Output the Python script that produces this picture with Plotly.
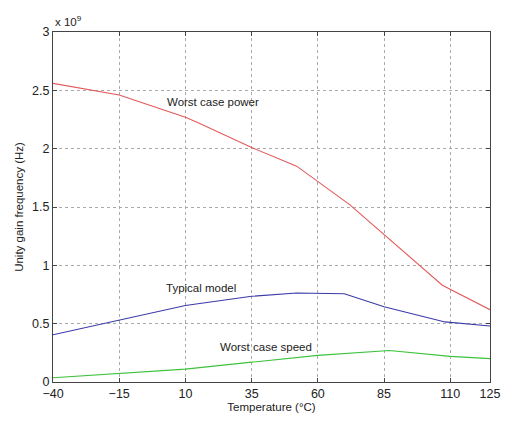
import plotly.graph_objects as go

# Unity gain frequency (x 1e9 Hz) vs temperature (°C) for three corners
power_temp = [-40, -15, 10, 15, 35, 52, 72, 107, 125]
power_ugf = [2.56, 2.46, 2.27, 2.22, 2.01, 1.85, 1.52, 0.83, 0.62]

typical_temp = [-40, -15, 10, 35, 52, 70, 85, 108, 125]
typical_ugf = [0.405, 0.53, 0.655, 0.735, 0.763, 0.757, 0.645, 0.515, 0.48]

speed_temp = [-40, -15, 10, 35, 60, 87, 110, 125]
speed_ugf = [0.036, 0.075, 0.11, 0.17, 0.228, 0.27, 0.22, 0.2]

x_ticks = [-40, -15, 10, 35, 60, 85, 110, 125]
y_ticks = [0, 0.5, 1, 1.5, 2, 2.5, 3]
y_tick_text = ["0", "0.5", "1", "1.5", "2", "2.5", "3"]

curve_labels = [
    ("Worst case power", 20.3, 2.40),
    ("Typical model", 15.9, 0.81),
    ("Worst case speed", 40.3, 0.30),
]

font = "Liberation Sans, Arial, sans-serif"

fig = go.Figure()
fig.add_trace(go.Scatter(x=power_temp, y=power_ugf, mode="lines",
                         line=dict(color="#e25a5a", width=1.1)))
fig.add_trace(go.Scatter(x=typical_temp, y=typical_ugf, mode="lines",
                         line=dict(color="#3a3aa8", width=1.1)))
fig.add_trace(go.Scatter(x=speed_temp, y=speed_ugf, mode="lines",
                         line=dict(color="#3cc23c", width=1.1)))

for text, tx, ty in curve_labels:
    fig.add_annotation(x=tx, y=ty, text=text, showarrow=False,
                       font=dict(family=font, size=11.5, color="#222"))

# exponent marker above the y axis
fig.add_annotation(xref="paper", yref="paper", x=0.0, y=1.0, xanchor="left",
                   yanchor="bottom", yshift=2,
                   text="x 10<sup>9</sup>", showarrow=False,
                   font=dict(family=font, size=11.5, color="#222"))

axis_common = dict(
    showline=True, linecolor="#444", linewidth=1, mirror="ticks",
    ticks="inside", ticklen=4, tickcolor="#444",
    showgrid=True, gridcolor="#aaa", griddash="dot", gridwidth=1,
    zeroline=False,
    tickfont=dict(family=font, size=12.5, color="#222"),
)

fig.update_xaxes(range=[-40, 125], tickvals=x_ticks,
                 ticktext=[str(v).replace("-", "\u2212") for v in x_ticks],
                 title=dict(text="Temperature (°C)", standoff=2,
                            font=dict(family=font, size=11.5, color="#222")),
                 **axis_common)
fig.update_yaxes(range=[0, 3], tickvals=y_ticks, ticktext=y_tick_text,
                 title=dict(text="Unity gain frequency (Hz)", standoff=6,
                            font=dict(family=font, size=11.5, color="#222")),
                 **axis_common)

fig.update_layout(
    width=512, height=423,
    margin=dict(l=53, r=13, t=32, b=36),
    plot_bgcolor="white", paper_bgcolor="white",
    showlegend=False,
)

fig.write_html("out.html")
